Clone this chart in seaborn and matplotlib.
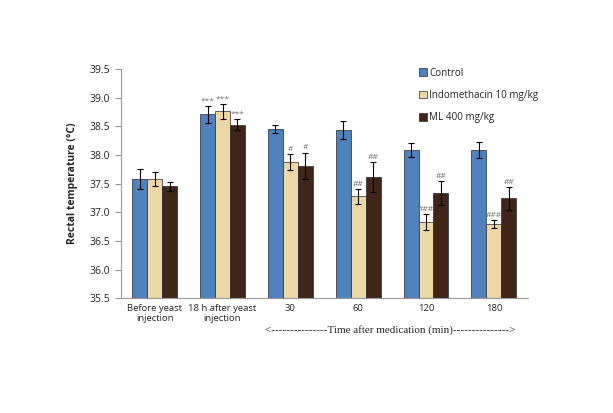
import numpy as np
import pandas as pd
import seaborn as sns
import matplotlib.pyplot as plt

categories = ['Before yeast\ninjection', '18 h after yeast\ninjection', '30', '60', '120', '180']
groups = ['Control', 'Indomethacin 10 mg/kg', 'ML 400 mg/kg']

control = [37.58, 38.71, 38.45, 38.44, 38.08, 38.09]
indo = [37.58, 38.76, 37.87, 37.28, 36.83, 36.79]
ml = [37.45, 38.53, 37.81, 37.61, 37.33, 37.24]

control_se = [0.17, 0.15, 0.07, 0.16, 0.12, 0.14]
indo_se = [0.12, 0.13, 0.14, 0.13, 0.14, 0.07]
ml_se = [0.08, 0.10, 0.23, 0.26, 0.21, 0.20]

control_sig = ['', '***', '', '', '', '']
indo_sig = ['', '***', '#', '##', '###', '###']
ml_sig = ['', '***', '#', '##', '##', '##']

colors = ['#4F81BD', '#EED7A6', '#3F2619']

sns.set_style('white')
plt.rcParams['font.family'] = ['Open Sans', 'DejaVu Sans']

df = pd.DataFrame({
    'time': categories * 3,
    'group': np.repeat(groups, len(categories)),
    'temp': control + indo + ml,
})

fig = plt.figure(figsize=(6.13, 4.13), dpi=100)
ax = fig.add_axes([0.197, 0.278, 0.664, 0.555])

sns.barplot(data=df, x='time', y='temp', hue='group', palette=colors, saturation=1,
            width=0.66, errorbar=None, edgecolor='#2a2a2a', linewidth=0.5, ax=ax)

# error bars and significance marks, placed on the bars seaborn drew
ses = [control_se, indo_se, ml_se]
sigs = [control_sig, indo_sig, ml_sig]
bar_sets = list(ax.containers)
for i, cont in enumerate(bar_sets):
    for j, bar in enumerate(cont.patches):
        xc = bar.get_x() + bar.get_width() / 2
        h = bar.get_height()
        ax.errorbar(xc, h, yerr=ses[i][j], fmt='none', ecolor='black',
                    elinewidth=0.8, capsize=2.5, capthick=0.8)
        if sigs[i][j]:
            ax.text(xc, h + ses[i][j] + 0.02, sigs[i][j], ha='center', va='bottom',
                    fontsize=6, color='#707070')

ax.set_ylim(35.5, 39.5)
ax.set_yticks(np.arange(35.5, 39.51, 0.5))
ax.set_yticklabels([f'{v:.1f}' for v in np.arange(35.5, 39.51, 0.5)], fontsize=7.5)
ax.set_xlim(-0.5, len(categories) - 0.5)
ax.set_xticks(range(len(categories)))
ax.set_xticklabels(categories, fontsize=6.8)
ax.set_xticks(np.arange(-0.5, len(categories), 1), minor=True)
ax.tick_params(axis='x', which='major', length=0, pad=4)
ax.tick_params(axis='x', which='minor', length=4, color='#999999', width=0.8)
ax.tick_params(axis='y', length=4, color='#999999', width=0.8, left=True)
ax.set_xlabel('')
ax.set_ylabel('Rectal temperature (°C)', fontsize=7.5, fontweight='bold', labelpad=8)

for s in ['top', 'right']:
    ax.spines[s].set_visible(False)
for s in ['left', 'bottom']:
    ax.spines[s].set_color('#999999')
    ax.spines[s].set_linewidth(0.8)

handles, labels = ax.get_legend_handles_labels()
ax.legend(handles, labels, loc='upper left', bbox_to_anchor=(0.71, 1.045),
          frameon=False, fontsize=7.1, handlelength=0.8, handleheight=0.8,
          handletextpad=0.3, labelspacing=1.15)

fig.text(0.636, 0.2, '<' + '-' * 15 + 'Time after medication (min)' + '-' * 15 + '>',
         ha='center', va='center', fontsize=8, family='Liberation Serif')

fig.savefig('out.png', dpi=100)
